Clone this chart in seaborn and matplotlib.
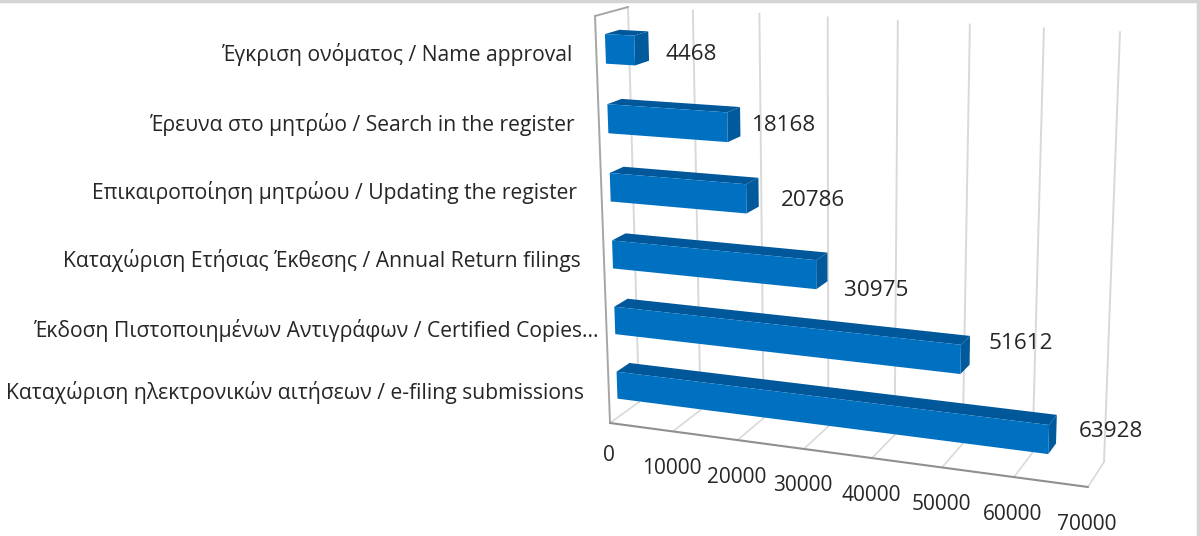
import numpy as np
import pandas as pd
import seaborn as sns
import matplotlib
matplotlib.use("Agg")
import matplotlib.pyplot as plt
import matplotlib.transforms as mtransforms
from matplotlib.lines import Line2D
from matplotlib.patches import Polygon

categories = [
    "Έγκριση ονόματος / Name approval",
    "Έρευνα στο μητρώο / Search in the register",
    "Επικαιροποίηση μητρώου / Updating the register",
    "Καταχώριση Ετήσιας Έκθεσης / Annual Return filings",
    "Έκδοση Πιστοποιημένων Αντιγράφων / Certified Copies...",
    "Καταχώριση ηλεκτρονικών αιτήσεων / e-filing submissions",
]
values = [4468, 18168, 20786, 30975, 51612, 63928]
x_ticks = [0, 10000, 20000, 30000, 40000, 50000, 60000, 70000]
x_max = 70000

# layout only, in pixels of the 1200x536 picture
W, H = 1200, 536
FRONT_QUAD = np.array([[595, 16], [1103, 41], [1088, 487], [610, 423]], float)
BACK_QUAD = np.array([[628, 7], [1120, 32], [1104, 462], [639, 402]], float)
BAR_Z = (0.28, 0.72)
LABEL_RIGHT = [572, 575, 577, 581, 599, 584]
LABEL_Y = [55, 124, 193, 261, 331, 392]
VALUE_DX = [17, 12, 22, 17, 19, 22]
VALUE_DY = [8, 4, 8, 24, -7, 2]

FACE = "#0070c0"
TOP = "#00579a"
SIDE = "#005a9c"
TEXT = "#262626"
GRID = "#d9d9d9"
EDGE = "#a6a6a6"


def homography(quad):
    src = [(0, 0), (1, 0), (1, 1), (0, 1)]
    a, b = [], []
    for (u, t), (px, py) in zip(src, quad):
        a.append([u, t, 1, 0, 0, 0, -u * px, -t * px])
        a.append([0, 0, 0, u, t, 1, -u * py, -t * py])
        b += [px, py]
    return np.append(np.linalg.solve(np.array(a), np.array(b)), 1).reshape(3, 3)


def project(v, c, z):
    # data value + category position + depth -> picture pixels
    m = homography((1 - z) * FRONT_QUAD + z * BACK_QUAD)
    u = np.asarray(v, float) / x_max
    t = (np.asarray(c, float) + 0.5) / len(categories)
    d = m[2, 0] * u + m[2, 1] * t + m[2, 2]
    return (m[0, 0] * u + m[0, 1] * t + m[0, 2]) / d, (m[1, 0] * u + m[1, 1] * t + m[1, 2]) / d


class PlaneTransform(mtransforms.Transform):
    input_dims = 2
    output_dims = 2
    is_separable = False
    has_inverse = False

    def __init__(self, z):
        super().__init__()
        self.z = z

    def transform_non_affine(self, xy):
        xy = np.asarray(xy, float)
        px, py = project(xy[:, 0], xy[:, 1], self.z)
        return np.column_stack([px, H - py])


def pixel_xy(v, c, z):
    px, py = project(v, c, z)
    return float(px), H - float(py)


sns.set_theme(style="white")
plt.rcParams["font.family"] = ["Open Sans", "DejaVu Sans"]

df = pd.DataFrame({"category": categories, "value": values})

fig = plt.figure(figsize=(W / 100, H / 100), dpi=100)
ax = fig.add_axes([0, 0, 1, 1])
sns.barplot(data=df, x="value", y="category", orient="h", width=0.42, color=FACE, saturation=1,
            linewidth=0, edgecolor="none", ax=ax, zorder=3)
ax.set_xlim(0, x_max)
ax.set_axis_off()

back = PlaneTransform(1.0)
front = PlaneTransform(0.0)
ident = mtransforms.IdentityTransform()
c_top, c_bottom = -0.5, len(categories) - 0.5

# back wall and floor gridlines
for tick in x_ticks:
    ax.plot([tick, tick], [c_top, c_bottom], color=GRID, lw=1.4, transform=back, clip_on=False, zorder=1)
    ax.add_line(Line2D(*zip(pixel_xy(tick, c_bottom, 0), pixel_xy(tick, c_bottom, 1)),
                       color=GRID, lw=1.2, transform=ident, clip_on=False, zorder=1))

# frame: left wall and front edge of the floor
ax.plot([0, 0], [c_top, c_bottom], color=EDGE, lw=1.4, transform=front, clip_on=False, zorder=2)
ax.plot([0, x_max], [c_bottom, c_bottom], color="#8f8f8f", lw=1.5, transform=front, clip_on=False, zorder=2)
ax.add_line(Line2D(*zip(pixel_xy(0, c_top, 0), pixel_xy(0, c_top, 1)),
                   color=EDGE, lw=1.4, transform=ident, clip_on=False, zorder=2))

# the bars: seaborn draws the front face, top and end are taken from it
for bar in list(ax.patches):
    v = bar.get_width()
    c0, c1 = bar.get_y(), bar.get_y() + bar.get_height()
    z0, z1 = BAR_Z
    ax.add_patch(Polygon([pixel_xy(0, c0, z0), pixel_xy(v, c0, z0), pixel_xy(v, c0, z1), pixel_xy(0, c0, z1)],
                         closed=True, fc=TOP, ec="none", transform=ident, clip_on=False, zorder=3))
    ax.add_patch(Polygon([pixel_xy(v, c0, z0), pixel_xy(v, c0, z1), pixel_xy(v, c1, z1), pixel_xy(v, c1, z0)],
                         closed=True, fc=SIDE, ec="none", transform=ident, clip_on=False, zorder=3))
    bar.set_transform(PlaneTransform(z0))
    bar.set_clip_on(False)
    bar.set_zorder(4)

# texts
for name, rx, ly in zip(categories, LABEL_RIGHT, LABEL_Y):
    ax.text(rx, H - ly, name, transform=ident, ha="right", va="center", fontsize=15.2, color=TEXT, clip_on=False)

for i, v in enumerate(values):
    ex, ey = pixel_xy(v, i, BAR_Z[1])
    ax.text(ex + VALUE_DX[i], ey - VALUE_DY[i], str(v), transform=ident, ha="left", va="center",
            fontsize=16.2, color=TEXT, clip_on=False)

for tick in x_ticks:
    tx, ty = pixel_xy(tick, c_bottom, 0)
    ax.text(tx - 1, ty - (32 if tick == 0 else 37), str(tick), transform=ident, ha="center", va="center",
            fontsize=15, color=TEXT, clip_on=False)

# grey edge of the screenshot
fig.add_artist(Line2D([0, 1], [0.998, 0.998], color="#d4d4d4", lw=2.5, transform=fig.transFigure))
fig.add_artist(Line2D([0.9985, 0.9985], [0, 1], color="#d4d4d4", lw=2.5, transform=fig.transFigure))

fig.savefig("out.png")
